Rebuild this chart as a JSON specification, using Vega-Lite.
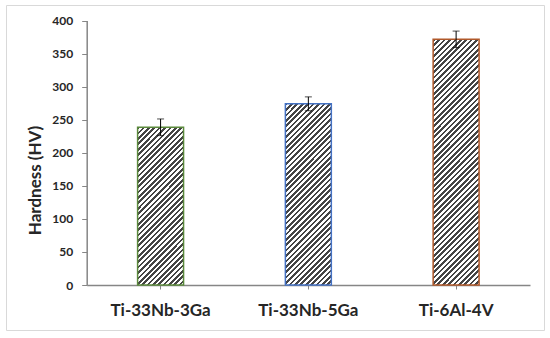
{
  "$schema": "https://vega.github.io/schema/vega-lite/v6.json",
  "width": 538,
  "height": 325,
  "autosize": "none",
  "padding": {"left": 6, "top": 5, "right": 6, "bottom": 8},
  "background": "white",
  "config": {
    "view": {"stroke": "#d9d9d9", "strokeWidth": 1},
    "axis": {
      "labelFont": "Lato", "titleFont": "Lato",
      "labelFontWeight": "bold", "titleFontWeight": "bold",
      "labelColor": "#262626", "titleColor": "#262626",
      "domainColor": "#868686", "tickColor": "#868686",
      "domainWidth": 1.5, "tickWidth": 1, "grid": false
    }
  },
  "data": {
    "values": [
      {"alloy": "Ti-33Nb-3Ga", "hv": 238.5, "err": 12.6},
      {"alloy": "Ti-33Nb-5Ga", "hv": 274, "err": 10.5},
      {"alloy": "Ti-6Al-4V", "hv": 371.5, "err": 12.5}
    ]
  },
  "encoding": {
    "x": {
      "field": "alloy", "type": "nominal", "sort": null,
      "scale": {"domain": ["Ti-33Nb-3Ga", "Ti-33Nb-5Ga", "Ti-6Al-4V"], "range": [80.7, 524], "paddingInner": 0.689, "paddingOuter": 0.3445},
      "axis": {"title": null, "orient": "bottom", "offset": -45, "labelAngle": 0, "labelFontSize": 17, "tickSize": 4, "labelPadding": 13}
    },
    "y": {
      "field": "hv", "type": "quantitative",
      "scale": {"domain": [0, 400], "range": [280, 15.5], "nice": false},
      "axis": {"title": "Hardness (HV)", "offset": -80.7, "values": [0, 50, 100, 150, 200, 250, 300, 350, 400], "labelFontSize": 12, "tickSize": 5, "labelPadding": 9, "titleFontSize": 17, "titlePadding": 7, "titleY": 175}
    }
  },
  "layer": [
    {
      "transform": [{"filter": "datum.alloy === 'Ti-33Nb-3Ga'"}],
      "mark": {"type": "bar", "stroke": "#5b8a3c", "strokeWidth": 1.5,
        "fill": {"gradient": "linear", "x1": 0, "y1": 0, "x2": 0.3475, "y2": 1.1905, "stops": [
{"offset":0,"color":"#444"},{"offset":0.0132,"color":"#444"},{"offset":0.0132,"color":"#fff"},{"offset":0.0263,"color":"#fff"},
{"offset":0.0263,"color":"#444"},{"offset":0.0395,"color":"#444"},{"offset":0.0395,"color":"#fff"},{"offset":0.0526,"color":"#fff"},
{"offset":0.0526,"color":"#444"},{"offset":0.0658,"color":"#444"},{"offset":0.0658,"color":"#fff"},{"offset":0.0789,"color":"#fff"},
{"offset":0.0789,"color":"#444"},{"offset":0.0921,"color":"#444"},{"offset":0.0921,"color":"#fff"},{"offset":0.1053,"color":"#fff"},
{"offset":0.1053,"color":"#444"},{"offset":0.1184,"color":"#444"},{"offset":0.1184,"color":"#fff"},{"offset":0.1316,"color":"#fff"},
{"offset":0.1316,"color":"#444"},{"offset":0.1447,"color":"#444"},{"offset":0.1447,"color":"#fff"},{"offset":0.1579,"color":"#fff"},
{"offset":0.1579,"color":"#444"},{"offset":0.1711,"color":"#444"},{"offset":0.1711,"color":"#fff"},{"offset":0.1842,"color":"#fff"},
{"offset":0.1842,"color":"#444"},{"offset":0.1974,"color":"#444"},{"offset":0.1974,"color":"#fff"},{"offset":0.2105,"color":"#fff"},
{"offset":0.2105,"color":"#444"},{"offset":0.2237,"color":"#444"},{"offset":0.2237,"color":"#fff"},{"offset":0.2368,"color":"#fff"},
{"offset":0.2368,"color":"#444"},{"offset":0.25,"color":"#444"},{"offset":0.25,"color":"#fff"},{"offset":0.2632,"color":"#fff"},
{"offset":0.2632,"color":"#444"},{"offset":0.2763,"color":"#444"},{"offset":0.2763,"color":"#fff"},{"offset":0.2895,"color":"#fff"},
{"offset":0.2895,"color":"#444"},{"offset":0.3026,"color":"#444"},{"offset":0.3026,"color":"#fff"},{"offset":0.3158,"color":"#fff"},
{"offset":0.3158,"color":"#444"},{"offset":0.3289,"color":"#444"},{"offset":0.3289,"color":"#fff"},{"offset":0.3421,"color":"#fff"},
{"offset":0.3421,"color":"#444"},{"offset":0.3553,"color":"#444"},{"offset":0.3553,"color":"#fff"},{"offset":0.3684,"color":"#fff"},
{"offset":0.3684,"color":"#444"},{"offset":0.3816,"color":"#444"},{"offset":0.3816,"color":"#fff"},{"offset":0.3947,"color":"#fff"},
{"offset":0.3947,"color":"#444"},{"offset":0.4079,"color":"#444"},{"offset":0.4079,"color":"#fff"},{"offset":0.4211,"color":"#fff"},
{"offset":0.4211,"color":"#444"},{"offset":0.4342,"color":"#444"},{"offset":0.4342,"color":"#fff"},{"offset":0.4474,"color":"#fff"},
{"offset":0.4474,"color":"#444"},{"offset":0.4605,"color":"#444"},{"offset":0.4605,"color":"#fff"},{"offset":0.4737,"color":"#fff"},
{"offset":0.4737,"color":"#444"},{"offset":0.4868,"color":"#444"},{"offset":0.4868,"color":"#fff"},{"offset":0.5,"color":"#fff"},
{"offset":0.5,"color":"#444"},{"offset":0.5132,"color":"#444"},{"offset":0.5132,"color":"#fff"},{"offset":0.5263,"color":"#fff"},
{"offset":0.5263,"color":"#444"},{"offset":0.5395,"color":"#444"},{"offset":0.5395,"color":"#fff"},{"offset":0.5526,"color":"#fff"},
{"offset":0.5526,"color":"#444"},{"offset":0.5658,"color":"#444"},{"offset":0.5658,"color":"#fff"},{"offset":0.5789,"color":"#fff"},
{"offset":0.5789,"color":"#444"},{"offset":0.5921,"color":"#444"},{"offset":0.5921,"color":"#fff"},{"offset":0.6053,"color":"#fff"},
{"offset":0.6053,"color":"#444"},{"offset":0.6184,"color":"#444"},{"offset":0.6184,"color":"#fff"},{"offset":0.6316,"color":"#fff"},
{"offset":0.6316,"color":"#444"},{"offset":0.6447,"color":"#444"},{"offset":0.6447,"color":"#fff"},{"offset":0.6579,"color":"#fff"},
{"offset":0.6579,"color":"#444"},{"offset":0.6711,"color":"#444"},{"offset":0.6711,"color":"#fff"},{"offset":0.6842,"color":"#fff"},
{"offset":0.6842,"color":"#444"},{"offset":0.6974,"color":"#444"},{"offset":0.6974,"color":"#fff"},{"offset":0.7105,"color":"#fff"},
{"offset":0.7105,"color":"#444"},{"offset":0.7237,"color":"#444"},{"offset":0.7237,"color":"#fff"},{"offset":0.7368,"color":"#fff"},
{"offset":0.7368,"color":"#444"},{"offset":0.75,"color":"#444"},{"offset":0.75,"color":"#fff"},{"offset":0.7632,"color":"#fff"},
{"offset":0.7632,"color":"#444"},{"offset":0.7763,"color":"#444"},{"offset":0.7763,"color":"#fff"},{"offset":0.7895,"color":"#fff"},
{"offset":0.7895,"color":"#444"},{"offset":0.8026,"color":"#444"},{"offset":0.8026,"color":"#fff"},{"offset":0.8158,"color":"#fff"},
{"offset":0.8158,"color":"#444"},{"offset":0.8289,"color":"#444"},{"offset":0.8289,"color":"#fff"},{"offset":0.8421,"color":"#fff"},
{"offset":0.8421,"color":"#444"},{"offset":0.8553,"color":"#444"},{"offset":0.8553,"color":"#fff"},{"offset":0.8684,"color":"#fff"},
{"offset":0.8684,"color":"#444"},{"offset":0.8816,"color":"#444"},{"offset":0.8816,"color":"#fff"},{"offset":0.8947,"color":"#fff"},
{"offset":0.8947,"color":"#444"},{"offset":0.9079,"color":"#444"},{"offset":0.9079,"color":"#fff"},{"offset":0.9211,"color":"#fff"},
{"offset":0.9211,"color":"#444"},{"offset":0.9342,"color":"#444"},{"offset":0.9342,"color":"#fff"},{"offset":0.9474,"color":"#fff"},
{"offset":0.9474,"color":"#444"},{"offset":0.9605,"color":"#444"},{"offset":0.9605,"color":"#fff"},{"offset":0.9737,"color":"#fff"},
{"offset":0.9737,"color":"#444"},{"offset":0.9868,"color":"#444"},{"offset":0.9868,"color":"#fff"},{"offset":1,"color":"#fff"}
        ]}}
    },
    {
      "transform": [{"filter": "datum.alloy === 'Ti-33Nb-5Ga'"}],
      "mark": {"type": "bar", "stroke": "#4472c4", "strokeWidth": 1.5,
        "fill": {"gradient": "linear", "x1": 0, "y1": 0, "x2": 0.299, "y2": 1.178, "stops": [
{"offset":0,"color":"#444"},{"offset":0.0119,"color":"#444"},{"offset":0.0119,"color":"#fff"},{"offset":0.0238,"color":"#fff"},
{"offset":0.0238,"color":"#444"},{"offset":0.0357,"color":"#444"},{"offset":0.0357,"color":"#fff"},{"offset":0.0476,"color":"#fff"},
{"offset":0.0476,"color":"#444"},{"offset":0.0595,"color":"#444"},{"offset":0.0595,"color":"#fff"},{"offset":0.0714,"color":"#fff"},
{"offset":0.0714,"color":"#444"},{"offset":0.0833,"color":"#444"},{"offset":0.0833,"color":"#fff"},{"offset":0.0952,"color":"#fff"},
{"offset":0.0952,"color":"#444"},{"offset":0.1071,"color":"#444"},{"offset":0.1071,"color":"#fff"},{"offset":0.119,"color":"#fff"},
{"offset":0.119,"color":"#444"},{"offset":0.131,"color":"#444"},{"offset":0.131,"color":"#fff"},{"offset":0.1429,"color":"#fff"},
{"offset":0.1429,"color":"#444"},{"offset":0.1548,"color":"#444"},{"offset":0.1548,"color":"#fff"},{"offset":0.1667,"color":"#fff"},
{"offset":0.1667,"color":"#444"},{"offset":0.1786,"color":"#444"},{"offset":0.1786,"color":"#fff"},{"offset":0.1905,"color":"#fff"},
{"offset":0.1905,"color":"#444"},{"offset":0.2024,"color":"#444"},{"offset":0.2024,"color":"#fff"},{"offset":0.2143,"color":"#fff"},
{"offset":0.2143,"color":"#444"},{"offset":0.2262,"color":"#444"},{"offset":0.2262,"color":"#fff"},{"offset":0.2381,"color":"#fff"},
{"offset":0.2381,"color":"#444"},{"offset":0.25,"color":"#444"},{"offset":0.25,"color":"#fff"},{"offset":0.2619,"color":"#fff"},
{"offset":0.2619,"color":"#444"},{"offset":0.2738,"color":"#444"},{"offset":0.2738,"color":"#fff"},{"offset":0.2857,"color":"#fff"},
{"offset":0.2857,"color":"#444"},{"offset":0.2976,"color":"#444"},{"offset":0.2976,"color":"#fff"},{"offset":0.3095,"color":"#fff"},
{"offset":0.3095,"color":"#444"},{"offset":0.3214,"color":"#444"},{"offset":0.3214,"color":"#fff"},{"offset":0.3333,"color":"#fff"},
{"offset":0.3333,"color":"#444"},{"offset":0.3452,"color":"#444"},{"offset":0.3452,"color":"#fff"},{"offset":0.3571,"color":"#fff"},
{"offset":0.3571,"color":"#444"},{"offset":0.369,"color":"#444"},{"offset":0.369,"color":"#fff"},{"offset":0.381,"color":"#fff"},
{"offset":0.381,"color":"#444"},{"offset":0.3929,"color":"#444"},{"offset":0.3929,"color":"#fff"},{"offset":0.4048,"color":"#fff"},
{"offset":0.4048,"color":"#444"},{"offset":0.4167,"color":"#444"},{"offset":0.4167,"color":"#fff"},{"offset":0.4286,"color":"#fff"},
{"offset":0.4286,"color":"#444"},{"offset":0.4405,"color":"#444"},{"offset":0.4405,"color":"#fff"},{"offset":0.4524,"color":"#fff"},
{"offset":0.4524,"color":"#444"},{"offset":0.4643,"color":"#444"},{"offset":0.4643,"color":"#fff"},{"offset":0.4762,"color":"#fff"},
{"offset":0.4762,"color":"#444"},{"offset":0.4881,"color":"#444"},{"offset":0.4881,"color":"#fff"},{"offset":0.5,"color":"#fff"},
{"offset":0.5,"color":"#444"},{"offset":0.5119,"color":"#444"},{"offset":0.5119,"color":"#fff"},{"offset":0.5238,"color":"#fff"},
{"offset":0.5238,"color":"#444"},{"offset":0.5357,"color":"#444"},{"offset":0.5357,"color":"#fff"},{"offset":0.5476,"color":"#fff"},
{"offset":0.5476,"color":"#444"},{"offset":0.5595,"color":"#444"},{"offset":0.5595,"color":"#fff"},{"offset":0.5714,"color":"#fff"},
{"offset":0.5714,"color":"#444"},{"offset":0.5833,"color":"#444"},{"offset":0.5833,"color":"#fff"},{"offset":0.5952,"color":"#fff"},
{"offset":0.5952,"color":"#444"},{"offset":0.6071,"color":"#444"},{"offset":0.6071,"color":"#fff"},{"offset":0.619,"color":"#fff"},
{"offset":0.619,"color":"#444"},{"offset":0.631,"color":"#444"},{"offset":0.631,"color":"#fff"},{"offset":0.6429,"color":"#fff"},
{"offset":0.6429,"color":"#444"},{"offset":0.6548,"color":"#444"},{"offset":0.6548,"color":"#fff"},{"offset":0.6667,"color":"#fff"},
{"offset":0.6667,"color":"#444"},{"offset":0.6786,"color":"#444"},{"offset":0.6786,"color":"#fff"},{"offset":0.6905,"color":"#fff"},
{"offset":0.6905,"color":"#444"},{"offset":0.7024,"color":"#444"},{"offset":0.7024,"color":"#fff"},{"offset":0.7143,"color":"#fff"},
{"offset":0.7143,"color":"#444"},{"offset":0.7262,"color":"#444"},{"offset":0.7262,"color":"#fff"},{"offset":0.7381,"color":"#fff"},
{"offset":0.7381,"color":"#444"},{"offset":0.75,"color":"#444"},{"offset":0.75,"color":"#fff"},{"offset":0.7619,"color":"#fff"},
{"offset":0.7619,"color":"#444"},{"offset":0.7738,"color":"#444"},{"offset":0.7738,"color":"#fff"},{"offset":0.7857,"color":"#fff"},
{"offset":0.7857,"color":"#444"},{"offset":0.7976,"color":"#444"},{"offset":0.7976,"color":"#fff"},{"offset":0.8095,"color":"#fff"},
{"offset":0.8095,"color":"#444"},{"offset":0.8214,"color":"#444"},{"offset":0.8214,"color":"#fff"},{"offset":0.8333,"color":"#fff"},
{"offset":0.8333,"color":"#444"},{"offset":0.8452,"color":"#444"},{"offset":0.8452,"color":"#fff"},{"offset":0.8571,"color":"#fff"},
{"offset":0.8571,"color":"#444"},{"offset":0.869,"color":"#444"},{"offset":0.869,"color":"#fff"},{"offset":0.881,"color":"#fff"},
{"offset":0.881,"color":"#444"},{"offset":0.8929,"color":"#444"},{"offset":0.8929,"color":"#fff"},{"offset":0.9048,"color":"#fff"},
{"offset":0.9048,"color":"#444"},{"offset":0.9167,"color":"#444"},{"offset":0.9167,"color":"#fff"},{"offset":0.9286,"color":"#fff"},
{"offset":0.9286,"color":"#444"},{"offset":0.9405,"color":"#444"},{"offset":0.9405,"color":"#fff"},{"offset":0.9524,"color":"#fff"},
{"offset":0.9524,"color":"#444"},{"offset":0.9643,"color":"#444"},{"offset":0.9643,"color":"#fff"},{"offset":0.9762,"color":"#fff"},
{"offset":0.9762,"color":"#444"},{"offset":0.9881,"color":"#444"},{"offset":0.9881,"color":"#fff"},{"offset":1,"color":"#fff"}
        ]}}
    },
    {
      "transform": [{"filter": "datum.alloy === 'Ti-6Al-4V'"}],
      "mark": {"type": "bar", "stroke": "#b0582a", "strokeWidth": 1.5,
        "fill": {"gradient": "linear", "x1": 0, "y1": 0, "x2": 0.2147, "y2": 1.147, "stops": [
{"offset":0,"color":"#444"},{"offset":0.0093,"color":"#444"},{"offset":0.0093,"color":"#fff"},{"offset":0.0185,"color":"#fff"},
{"offset":0.0185,"color":"#444"},{"offset":0.0278,"color":"#444"},{"offset":0.0278,"color":"#fff"},{"offset":0.037,"color":"#fff"},
{"offset":0.037,"color":"#444"},{"offset":0.0463,"color":"#444"},{"offset":0.0463,"color":"#fff"},{"offset":0.0556,"color":"#fff"},
{"offset":0.0556,"color":"#444"},{"offset":0.0648,"color":"#444"},{"offset":0.0648,"color":"#fff"},{"offset":0.0741,"color":"#fff"},
{"offset":0.0741,"color":"#444"},{"offset":0.0833,"color":"#444"},{"offset":0.0833,"color":"#fff"},{"offset":0.0926,"color":"#fff"},
{"offset":0.0926,"color":"#444"},{"offset":0.1019,"color":"#444"},{"offset":0.1019,"color":"#fff"},{"offset":0.1111,"color":"#fff"},
{"offset":0.1111,"color":"#444"},{"offset":0.1204,"color":"#444"},{"offset":0.1204,"color":"#fff"},{"offset":0.1296,"color":"#fff"},
{"offset":0.1296,"color":"#444"},{"offset":0.1389,"color":"#444"},{"offset":0.1389,"color":"#fff"},{"offset":0.1481,"color":"#fff"},
{"offset":0.1481,"color":"#444"},{"offset":0.1574,"color":"#444"},{"offset":0.1574,"color":"#fff"},{"offset":0.1667,"color":"#fff"},
{"offset":0.1667,"color":"#444"},{"offset":0.1759,"color":"#444"},{"offset":0.1759,"color":"#fff"},{"offset":0.1852,"color":"#fff"},
{"offset":0.1852,"color":"#444"},{"offset":0.1944,"color":"#444"},{"offset":0.1944,"color":"#fff"},{"offset":0.2037,"color":"#fff"},
{"offset":0.2037,"color":"#444"},{"offset":0.213,"color":"#444"},{"offset":0.213,"color":"#fff"},{"offset":0.2222,"color":"#fff"},
{"offset":0.2222,"color":"#444"},{"offset":0.2315,"color":"#444"},{"offset":0.2315,"color":"#fff"},{"offset":0.2407,"color":"#fff"},
{"offset":0.2407,"color":"#444"},{"offset":0.25,"color":"#444"},{"offset":0.25,"color":"#fff"},{"offset":0.2593,"color":"#fff"},
{"offset":0.2593,"color":"#444"},{"offset":0.2685,"color":"#444"},{"offset":0.2685,"color":"#fff"},{"offset":0.2778,"color":"#fff"},
{"offset":0.2778,"color":"#444"},{"offset":0.287,"color":"#444"},{"offset":0.287,"color":"#fff"},{"offset":0.2963,"color":"#fff"},
{"offset":0.2963,"color":"#444"},{"offset":0.3056,"color":"#444"},{"offset":0.3056,"color":"#fff"},{"offset":0.3148,"color":"#fff"},
{"offset":0.3148,"color":"#444"},{"offset":0.3241,"color":"#444"},{"offset":0.3241,"color":"#fff"},{"offset":0.3333,"color":"#fff"},
{"offset":0.3333,"color":"#444"},{"offset":0.3426,"color":"#444"},{"offset":0.3426,"color":"#fff"},{"offset":0.3519,"color":"#fff"},
{"offset":0.3519,"color":"#444"},{"offset":0.3611,"color":"#444"},{"offset":0.3611,"color":"#fff"},{"offset":0.3704,"color":"#fff"},
{"offset":0.3704,"color":"#444"},{"offset":0.3796,"color":"#444"},{"offset":0.3796,"color":"#fff"},{"offset":0.3889,"color":"#fff"},
{"offset":0.3889,"color":"#444"},{"offset":0.3981,"color":"#444"},{"offset":0.3981,"color":"#fff"},{"offset":0.4074,"color":"#fff"},
{"offset":0.4074,"color":"#444"},{"offset":0.4167,"color":"#444"},{"offset":0.4167,"color":"#fff"},{"offset":0.4259,"color":"#fff"},
{"offset":0.4259,"color":"#444"},{"offset":0.4352,"color":"#444"},{"offset":0.4352,"color":"#fff"},{"offset":0.4444,"color":"#fff"},
{"offset":0.4444,"color":"#444"},{"offset":0.4537,"color":"#444"},{"offset":0.4537,"color":"#fff"},{"offset":0.463,"color":"#fff"},
{"offset":0.463,"color":"#444"},{"offset":0.4722,"color":"#444"},{"offset":0.4722,"color":"#fff"},{"offset":0.4815,"color":"#fff"},
{"offset":0.4815,"color":"#444"},{"offset":0.4907,"color":"#444"},{"offset":0.4907,"color":"#fff"},{"offset":0.5,"color":"#fff"},
{"offset":0.5,"color":"#444"},{"offset":0.5093,"color":"#444"},{"offset":0.5093,"color":"#fff"},{"offset":0.5185,"color":"#fff"},
{"offset":0.5185,"color":"#444"},{"offset":0.5278,"color":"#444"},{"offset":0.5278,"color":"#fff"},{"offset":0.537,"color":"#fff"},
{"offset":0.537,"color":"#444"},{"offset":0.5463,"color":"#444"},{"offset":0.5463,"color":"#fff"},{"offset":0.5556,"color":"#fff"},
{"offset":0.5556,"color":"#444"},{"offset":0.5648,"color":"#444"},{"offset":0.5648,"color":"#fff"},{"offset":0.5741,"color":"#fff"},
{"offset":0.5741,"color":"#444"},{"offset":0.5833,"color":"#444"},{"offset":0.5833,"color":"#fff"},{"offset":0.5926,"color":"#fff"},
{"offset":0.5926,"color":"#444"},{"offset":0.6019,"color":"#444"},{"offset":0.6019,"color":"#fff"},{"offset":0.6111,"color":"#fff"},
{"offset":0.6111,"color":"#444"},{"offset":0.6204,"color":"#444"},{"offset":0.6204,"color":"#fff"},{"offset":0.6296,"color":"#fff"},
{"offset":0.6296,"color":"#444"},{"offset":0.6389,"color":"#444"},{"offset":0.6389,"color":"#fff"},{"offset":0.6481,"color":"#fff"},
{"offset":0.6481,"color":"#444"},{"offset":0.6574,"color":"#444"},{"offset":0.6574,"color":"#fff"},{"offset":0.6667,"color":"#fff"},
{"offset":0.6667,"color":"#444"},{"offset":0.6759,"color":"#444"},{"offset":0.6759,"color":"#fff"},{"offset":0.6852,"color":"#fff"},
{"offset":0.6852,"color":"#444"},{"offset":0.6944,"color":"#444"},{"offset":0.6944,"color":"#fff"},{"offset":0.7037,"color":"#fff"},
{"offset":0.7037,"color":"#444"},{"offset":0.713,"color":"#444"},{"offset":0.713,"color":"#fff"},{"offset":0.7222,"color":"#fff"},
{"offset":0.7222,"color":"#444"},{"offset":0.7315,"color":"#444"},{"offset":0.7315,"color":"#fff"},{"offset":0.7407,"color":"#fff"},
{"offset":0.7407,"color":"#444"},{"offset":0.75,"color":"#444"},{"offset":0.75,"color":"#fff"},{"offset":0.7593,"color":"#fff"},
{"offset":0.7593,"color":"#444"},{"offset":0.7685,"color":"#444"},{"offset":0.7685,"color":"#fff"},{"offset":0.7778,"color":"#fff"},
{"offset":0.7778,"color":"#444"},{"offset":0.787,"color":"#444"},{"offset":0.787,"color":"#fff"},{"offset":0.7963,"color":"#fff"},
{"offset":0.7963,"color":"#444"},{"offset":0.8056,"color":"#444"},{"offset":0.8056,"color":"#fff"},{"offset":0.8148,"color":"#fff"},
{"offset":0.8148,"color":"#444"},{"offset":0.8241,"color":"#444"},{"offset":0.8241,"color":"#fff"},{"offset":0.8333,"color":"#fff"},
{"offset":0.8333,"color":"#444"},{"offset":0.8426,"color":"#444"},{"offset":0.8426,"color":"#fff"},{"offset":0.8519,"color":"#fff"},
{"offset":0.8519,"color":"#444"},{"offset":0.8611,"color":"#444"},{"offset":0.8611,"color":"#fff"},{"offset":0.8704,"color":"#fff"},
{"offset":0.8704,"color":"#444"},{"offset":0.8796,"color":"#444"},{"offset":0.8796,"color":"#fff"},{"offset":0.8889,"color":"#fff"},
{"offset":0.8889,"color":"#444"},{"offset":0.8981,"color":"#444"},{"offset":0.8981,"color":"#fff"},{"offset":0.9074,"color":"#fff"},
{"offset":0.9074,"color":"#444"},{"offset":0.9167,"color":"#444"},{"offset":0.9167,"color":"#fff"},{"offset":0.9259,"color":"#fff"},
{"offset":0.9259,"color":"#444"},{"offset":0.9352,"color":"#444"},{"offset":0.9352,"color":"#fff"},{"offset":0.9444,"color":"#fff"},
{"offset":0.9444,"color":"#444"},{"offset":0.9537,"color":"#444"},{"offset":0.9537,"color":"#fff"},{"offset":0.963,"color":"#fff"},
{"offset":0.963,"color":"#444"},{"offset":0.9722,"color":"#444"},{"offset":0.9722,"color":"#fff"},{"offset":0.9815,"color":"#fff"},
{"offset":0.9815,"color":"#444"},{"offset":0.9907,"color":"#444"},{"offset":0.9907,"color":"#fff"},{"offset":1,"color":"#fff"}
        ]}}
    },
    {
      "mark": {"type": "errorbar", "color": "black", "thickness": 1, "ticks": {"size": 7, "color": "black", "thickness": 1}},
      "encoding": {"yError": {"field": "err"}}
    }
  ]
}
